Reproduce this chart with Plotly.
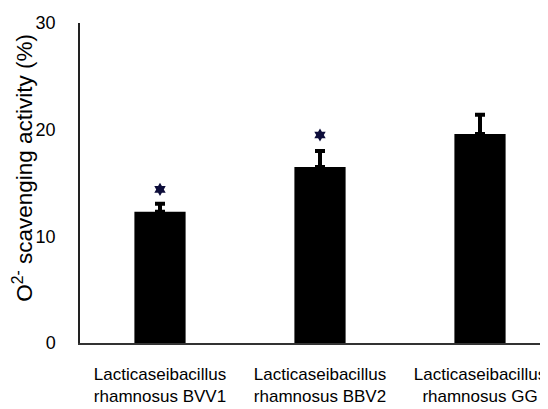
import plotly.graph_objects as go

categories = ["Lacticaseibacillus<br>rhamnosus BVV1",
              "Lacticaseibacillus<br>rhamnosus BBV2",
              "Lacticaseibacillus<br>rhamnosus GG"]
values = [12.3, 16.5, 19.6]
errors = [0.75, 1.5, 1.8]
star_values = [14.4, 19.5, None]
y_ticks = [0, 10, 20, 30]
y_title = "O<sup>2-</sup> scavenging activity (%)"

xpos = list(range(len(categories)))
FONT = "Liberation Sans, Arial, sans-serif"

fig = go.Figure()
fig.add_trace(go.Bar(
    x=xpos, y=values, width=0.32,
    marker=dict(color="black", line=dict(width=0)),
    error_y=dict(type="data", symmetric=False, array=errors,
                 arrayminus=[0] * len(errors), color="black",
                 thickness=4, width=5),
    showlegend=False,
))
fig.add_trace(go.Scatter(
    x=xpos, y=star_values, mode="markers",
    marker=dict(symbol="hexagram", size=10, color="#0d0d3a",
                line=dict(width=0)),
    showlegend=False,
))

fig.update_layout(
    width=540, height=401,
    margin=dict(l=72, r=0, t=15, b=66),
    paper_bgcolor="white", plot_bgcolor="white",
    font=dict(family=FONT, color="black"),
)
fig.add_annotation(
    text=y_title, textangle=-90, showarrow=False,
    xref="paper", yref="paper", x=-0.122, y=0.547,
    xanchor="center", yanchor="middle",
    font=dict(size=22.5, family=FONT, color="black"),
)
fig.update_xaxes(
    range=[-0.5, -0.5 + 468 / 160],
    tickmode="array", tickvals=xpos, ticktext=categories,
    tickfont=dict(size=17, family=FONT),
    showline=True, linecolor="#333333", linewidth=1.5,
    showgrid=False, zeroline=False, ticks="", automargin=False,
    ticklabelstandoff=15,
)
fig.update_yaxes(
    range=[0, 30], tickmode="array", tickvals=y_ticks,
    tickfont=dict(size=18, family=FONT),
    showline=True, linecolor="#222222", linewidth=1.5,
    showgrid=False, zeroline=False, ticks="", automargin=False,
    ticklabelstandoff=19,
)

fig.write_html("out.html")
